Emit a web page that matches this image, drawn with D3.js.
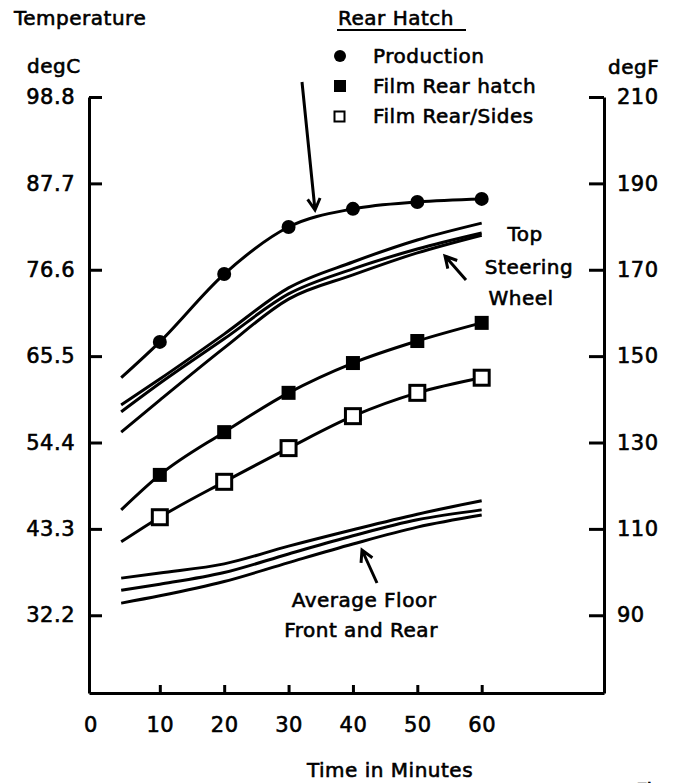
<!DOCTYPE html>
<html>
<head>
<meta charset="utf-8">
<script src="https://cdn.jsdelivr.net/npm/d3@7"></script>
<style>
  body { margin: 0; background: #fff; }
  svg text { font-family: "DejaVu Sans", sans-serif; fill: #000; stroke: #000; stroke-width: 0.6px; letter-spacing: 0.5px; }
</style>
</head>
<body>
<svg id="svg-main" width="673" height="783"></svg>
<script>
// time points (minutes) and temperatures (degF)
var times = [4, 10, 20, 30, 40, 50, 60];
var markTimes = [10, 20, 30, 40, 50, 60];

var production = [145.0, 153.3, 169.0, 179.9, 184.1, 185.7, 186.4];
var filmRearHatch = [114.4, 122.5, 132.4, 141.5, 148.4, 153.5, 157.7];
var filmRearSides = [107.0, 112.7, 120.9, 128.7, 136.1, 141.5, 145.0];

var steeringA = [138.7, 144.7, 155.1, 165.8, 171.8, 176.9, 180.8];
var steeringB = [137.1, 143.7, 154.0, 164.4, 170.2, 174.8, 178.5];
var steeringC = [132.4, 139.8, 151.9, 163.2, 168.8, 173.9, 178.0];

var floorD = [98.6, 99.8, 101.9, 106.0, 109.8, 113.4, 116.5];
var floorE = [95.8, 97.2, 99.9, 104.2, 108.4, 112.1, 114.4];
var floorF = [92.8, 94.5, 97.8, 102.2, 106.5, 110.4, 113.2];

var degFTicks = [90, 110, 130, 150, 170, 190, 210];
var degCLabels = ["32.2", "43.3", "54.4", "65.5", "76.6", "87.7", "98.8"];
var xTicks = [0, 10, 20, 30, 40, 50, 60];

var legendItems = ["Production", "Film Rear hatch", "Film Rear/Sides"];

var svg = d3.select("svg");
var plotLeft = 89, plotRight = 604, plotTop = 97, plotBottom = 693;

var x = d3.scaleLinear().domain([-1, 79]).range([plotLeft, plotRight]);
var y = d3.scaleLinear().domain([72, 210]).range([plotBottom, plotTop]);

// axes
var yLeft = d3.axisLeft(y)
    .tickValues(degFTicks)
    .tickFormat(function (d, i) { return degCLabels[i]; })
    .tickSizeInner(-13).tickSizeOuter(0).tickPadding(14);
var gl = svg.append("g").attr("transform", "translate(" + plotLeft + ",0)").call(yLeft);

var yRight = d3.axisRight(y)
    .tickValues(degFTicks)
    .tickSizeInner(-15).tickSizeOuter(0).tickPadding(13);
var gr = svg.append("g").attr("transform", "translate(" + plotRight + ",0)").call(yRight);

var xAxis = d3.axisBottom(x)
    .tickValues(xTicks)
    .tickSizeInner(-8).tickSizeOuter(0).tickPadding(24);
var gb = svg.append("g").attr("transform", "translate(0," + plotBottom + ")").call(xAxis);
var zeroTick = gb.selectAll(".tick").filter(function (d) { return d === 0; });
zeroTick.select("line").remove();
zeroTick.select("text").attr("x", -5);

[gl, gr, gb].forEach(function (g) {
    g.selectAll(".domain").attr("stroke", "#000").attr("stroke-width", 3);
    g.selectAll(".tick line").attr("stroke", "#000").attr("stroke-width", 3);
    g.selectAll("text").attr("font-size", 21).style("font-family", "DejaVu Sans");
});
gb.selectAll(".tick text").attr("dy", "0.71em");

// lines
var line = d3.line()
    .curve(d3.curveMonotoneX)
    .x(function (d) { return x(d[0]); })
    .y(function (d) { return y(d[1]); });

function pairs(vals) {
    return vals.map(function (v, i) { return [times[i], v]; });
}

var allSeries = [production, filmRearHatch, filmRearSides, steeringA, steeringB, steeringC, floorD, floorE, floorF];
svg.append("g").selectAll("path")
    .data(allSeries)
    .enter().append("path")
    .attr("d", function (d) { return line(pairs(d)); })
    .attr("fill", "none")
    .attr("stroke", "#000")
    .attr("stroke-width", 3);

// markers
function marks(vals) {
    return markTimes.map(function (t) { return [t, vals[times.indexOf(t)]]; });
}

svg.append("g").selectAll("circle")
    .data(marks(production))
    .enter().append("circle")
    .attr("cx", function (d) { return x(d[0]); })
    .attr("cy", function (d) { return y(d[1]); })
    .attr("r", 7)
    .attr("fill", "#000");

svg.append("g").selectAll("rect")
    .data(marks(filmRearHatch))
    .enter().append("rect")
    .attr("x", function (d) { return x(d[0]) - 7; })
    .attr("y", function (d) { return y(d[1]) - 7; })
    .attr("width", 14).attr("height", 14)
    .attr("fill", "#000");

svg.append("g").selectAll("rect")
    .data(marks(filmRearSides))
    .enter().append("rect")
    .attr("x", function (d) { return x(d[0]) - 7.5; })
    .attr("y", function (d) { return y(d[1]) - 7.5; })
    .attr("width", 15).attr("height", 15)
    .attr("fill", "#fff").attr("stroke", "#000").attr("stroke-width", 3);

// titles
svg.append("text").attr("x", 14).attr("y", 25).attr("font-size", 20).text("Temperature");
svg.append("text").attr("x", 27).attr("y", 73).attr("font-size", 20).text("degC");
svg.append("text").attr("x", 608).attr("y", 74).attr("font-size", 20).text("degF");

// legend
var lg = svg.append("g");
lg.append("text").attr("x", 338).attr("y", 25).attr("font-size", 20).text("Rear Hatch");
lg.append("line").attr("x1", 337).attr("x2", 466).attr("y1", 30).attr("y2", 30)
    .attr("stroke", "#000").attr("stroke-width", 2);
var rows = lg.selectAll("g.row").data(legendItems).enter().append("g")
    .attr("transform", function (d, i) { return "translate(340," + (56 + i * 30) + ")"; });
rows.append("text").attr("x", 33).attr("dy", "0.35em").attr("font-size", 20)
    .text(function (d) { return d; });
lg.append("circle").attr("cx", 340).attr("cy", 56).attr("r", 6).attr("fill", "#000");
lg.append("rect").attr("x", 334).attr("y", 80).attr("width", 12).attr("height", 12).attr("fill", "#000");
lg.append("rect").attr("x", 334.5).attr("y", 111.5).attr("width", 10).attr("height", 10)
    .attr("fill", "#fff").attr("stroke", "#000").attr("stroke-width", 2);

// annotations
function arrow(x1, y1, x2, y2) {
    var a = Math.atan2(y2 - y1, x2 - x1), h = 13, w = 0.5;
    svg.append("path")
        .attr("d", "M" + x1 + "," + y1 + "L" + x2 + "," + y2 +
            "M" + (x2 - h * Math.cos(a - w)) + "," + (y2 - h * Math.sin(a - w)) +
            "L" + x2 + "," + y2 +
            "L" + (x2 - h * Math.cos(a + w)) + "," + (y2 - h * Math.sin(a + w)))
        .attr("fill", "none").attr("stroke", "#000").attr("stroke-width", 3);
}
arrow(302, 82, 315, 210);
arrow(466, 280, 445, 256);
arrow(377, 583, 362, 550);

svg.append("text").attr("x", 525).attr("y", 241).attr("text-anchor", "middle").attr("font-size", 20).text("Top");
svg.append("text").attr("x", 529).attr("y", 274).attr("text-anchor", "middle").attr("font-size", 20).text("Steering");
svg.append("text").attr("x", 521).attr("y", 305).attr("text-anchor", "middle").attr("font-size", 20).text("Wheel");

svg.append("text").attr("x", 364).attr("y", 607).attr("text-anchor", "middle").attr("font-size", 20).text("Average Floor");
svg.append("text").attr("x", 361).attr("y", 637).attr("text-anchor", "middle").attr("font-size", 20).text("Front and Rear");

svg.append("text").attr("x", 390).attr("y", 777).attr("text-anchor", "middle").attr("font-size", 20).text("Time in Minutes");
svg.append("text").attr("x", 636).attr("y", 797).attr("font-size", 20).text("Fig");
</script>
</body>
</html>
